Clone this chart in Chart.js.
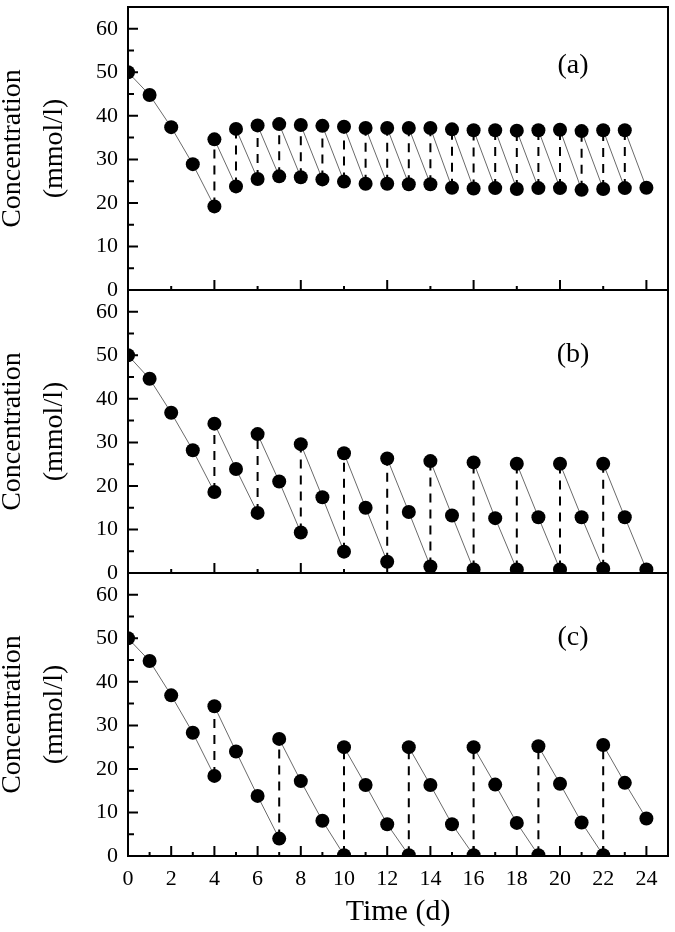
<!DOCTYPE html>
<html>
<head>
<meta charset="utf-8">
<script src="https://cdn.jsdelivr.net/npm/chart.js"></script>
<style>
  html, body { margin: 0; padding: 0; background: #fff; }
  #wrap { width: 675px; height: 932px; position: relative; }
</style>
</head>
<body>
<div id="wrap"><canvas id="concChart"></canvas></div>
<script>
// Tiempos (d) y concentraciones (mmol/l) de cada panel
const timeA = [0, 1, 2, 3, 4, 4, 5, 5, 6, 6, 7, 7, 8, 8, 9, 9, 10, 10, 11, 11, 12, 12,
  13, 13, 14, 14, 15, 15, 16, 16, 17, 17, 18, 18, 19, 19, 20, 20, 21, 21, 22, 22, 23, 23, 24];
const concA = [50, 44.8, 37.4, 28.9, 19.2, 34.6, 23.8, 37.0, 25.5, 37.8, 26.1, 38.1, 25.9, 37.9,
  25.4, 37.7, 24.9, 37.5, 24.4, 37.2, 24.4, 37.2, 24.3, 37.2, 24.3, 37.2, 23.5, 36.9, 23.3, 36.7,
  23.4, 36.7, 23.2, 36.6, 23.4, 36.7, 23.4, 36.8, 23.0, 36.5, 23.2, 36.7, 23.4, 36.7, 23.5];

const timeB = [0, 1, 2, 3, 4, 4, 5, 6, 6, 7, 8, 8, 9, 10, 10, 11, 12, 12, 13, 14, 14, 15,
  16, 16, 17, 18, 18, 19, 20, 20, 21, 22, 22, 23, 24];
const concB = [50, 44.6, 36.8, 28.2, 18.6, 34.3, 23.9, 13.8, 31.9, 21.0, 9.3, 29.6, 17.4,
  4.9, 27.5, 15.0, 2.6, 26.3, 14.0, 1.5, 25.7, 13.2, 0.8, 25.4, 12.6, 0.8, 25.1, 12.8,
  0.8, 25.1, 12.8, 1.0, 25.1, 12.8, 0.8];

const timeC = [0, 1, 2, 3, 4, 4, 5, 6, 7, 7, 8, 9, 10, 10, 11, 12, 13, 13, 14, 15,
  16, 16, 17, 18, 19, 19, 20, 21, 22, 22, 23, 24];
const concC = [50, 44.8, 36.9, 28.3, 18.4, 34.4, 24.0, 13.8, 4.0, 26.9, 17.2, 8.1,
  0.2, 25.0, 16.3, 7.3, 0.2, 25.0, 16.3, 7.3, 0.2, 25.0, 16.4, 7.6, 0.2, 25.2, 16.6, 7.7,
  0.2, 25.5, 16.8, 8.6];

const panelTags = ['(a)', '(b)', '(c)'];
const panelAxes = ['ya', 'yb', 'yc'];
const xMajorStep = [4, 4, 2];   // marcas largas del eje x en cada panel

const serif = "'Liberation Serif', 'Times New Roman', serif";

function toPoints(t, c) {
    return t.map((x, i) => ({ x: x, y: c[i] }));
}

// Segmento vertical (reposición) discontinuo, caída diaria fina y gris
const isRefill = ctx => ctx.p0.parsed.x === ctx.p1.parsed.x;

function panelDataset(t, c, axis) {
    return {
        data: toPoints(t, c),
        yAxisID: axis,
        borderColor: '#6a6a6a',
        borderWidth: 1,
        pointRadius: 7,
        pointBackgroundColor: '#000',
        pointBorderColor: '#000',
        pointBorderWidth: 0,
        tension: 0,
        segment: {
            borderColor: ctx => isRefill(ctx) ? '#000' : undefined,
            borderWidth: ctx => isRefill(ctx) ? 2 : undefined,
            borderDash: ctx => isRefill(ctx) ? [9, 7] : undefined
        }
    };
}

function yScale(weight) {
    return {
        type: 'linear',
        position: 'left',
        stack: 'panels',
        stackWeight: 1,
        weight: weight,
        min: 0,
        max: 65,
        grid: { display: false, drawTicks: false },
        border: { display: false },
        ticks: {
            stepSize: 10,
            includeBounds: false,
            autoSkip: false,
            padding: 10,
            color: '#000',
            font: { family: serif, size: 22 }
        },
        title: {
            display: true,
            text: ['Concentration', '(mmol/l)'],
            color: '#000',
            font: { family: serif, size: 28, lineHeight: 1.5 },
            padding: { top: -8, bottom: 0 }
        },
        afterFit: function(scale) {
            scale.width = 128;
            scale.paddingTop = 0;
            scale.paddingBottom = 0;
        }
    };
}

// Marco de cada panel, marcas hacia dentro y etiqueta (a)/(b)/(c)
const panelFrames = {
    id: 'panelFrames',
    afterDraw(chart) {
        const ctx = chart.ctx;
        const x = chart.scales.x;
        const left = chart.chartArea.left;
        const right = chart.chartArea.right;
        ctx.save();
        ctx.strokeStyle = '#000';
        panelAxes.forEach((id, p) => {
            const y = chart.scales[id];
            ctx.lineWidth = 2;
            ctx.strokeRect(left, y.top, right - left, y.bottom - y.top);
            ctx.beginPath();
            for (let v = 0; v <= 60; v += 5) {
                const py = y.getPixelForValue(v);
                const len = v % 10 === 0 ? 10 : 6;
                ctx.moveTo(left, py);
                ctx.lineTo(left + len, py);
            }
            for (let d = 0; d <= 24; d++) {
                let len = 0;
                if (d % xMajorStep[p] === 0) len = 10;
                else if (d % (xMajorStep[p] / 2) === 0) len = 4;
                if (!len) continue;
                const px = x.getPixelForValue(d);
                ctx.moveTo(px, y.bottom);
                ctx.lineTo(px, y.bottom - len);
            }
            ctx.stroke();

            ctx.fillStyle = '#000';
            ctx.font = '28px ' + serif;
            ctx.textAlign = 'center';
            ctx.textBaseline = 'middle';
            ctx.fillText(panelTags[p], x.getPixelForValue(20.6), y.getPixelForValue(p === 0 ? 51.6 : 50.2));
        });
        ctx.restore();
    }
};

document.addEventListener('DOMContentLoaded', function() {
    new Chart(document.getElementById('concChart'), {
        type: 'line',
        data: {
            datasets: [
                panelDataset(timeA, concA, 'ya'),
                panelDataset(timeB, concB, 'yb'),
                panelDataset(timeC, concC, 'yc')
            ]
        },
        options: {
            responsive: true,
            maintainAspectRatio: false,
            animation: false,
            layout: { padding: { top: 3, right: 3, left: 0, bottom: 0 } },
            plugins: {
                legend: { display: false },
                tooltip: { enabled: false }
            },
            scales: {
                x: {
                    type: 'linear',
                    position: 'bottom',
                    min: 0,
                    max: 25,
                    grid: { display: false, drawTicks: false },
                    border: { display: false },
                    ticks: {
                        stepSize: 2,
                        includeBounds: false,
                        autoSkip: false,
                        padding: 10,
                        maxRotation: 0,
                        color: '#000',
                        font: { family: serif, size: 22 }
                    },
                    title: {
                        display: true,
                        text: 'Time (d)',
                        color: '#000',
                        font: { family: serif, size: 30 },
                        padding: { top: 0, bottom: 2 }
                    },
                    afterFit: function(scale) {
                        scale.height = 76;
                        scale.paddingLeft = 0;
                        scale.paddingRight = 0;
                    }
                },
                ya: yScale(3),
                yb: yScale(2),
                yc: yScale(1)
            }
        },
        plugins: [panelFrames]
    });
});
</script>
</body>
</html>
